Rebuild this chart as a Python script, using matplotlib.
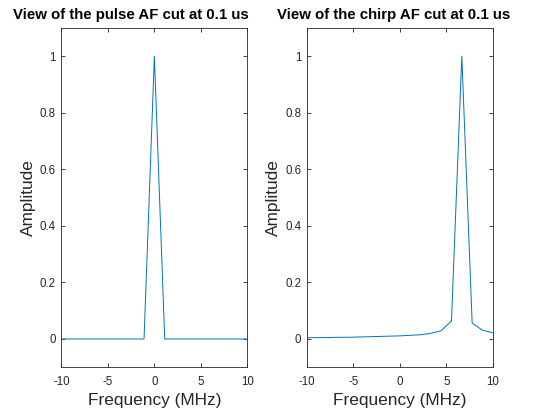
import numpy as np
import matplotlib
matplotlib.use("Agg")
import matplotlib.pyplot as plt

plt.rcParams['font.family'] = ['Liberation Sans', 'DejaVu Sans']
plt.rcParams['axes.unicode_minus'] = False

# frequency grid (MHz), 19 samples across -10..10
freq = np.linspace(-10, 10, 19)

pulse_amp = [0, 0, 0, 0, 0, 0, 0, 0, 0, 1.0, 0, 0, 0, 0, 0, 0, 0, 0, 0]
chirp_amp = [0.004, 0.005, 0.005, 0.006, 0.006, 0.007, 0.008, 0.009, 0.010,
             0.011, 0.013, 0.015, 0.020, 0.029, 0.064, 1.0, 0.056, 0.031, 0.022]

titles = ["View of the pulse AF cut at 0.1 us", "View of the chirp AF cut at 0.1 us"]
xticks = [-10, -5, 0, 5, 10]
yticks = [0, 0.2, 0.4, 0.6, 0.8, 1]
ytick_labels = ["0", "0.2", "0.4", "0.6", "0.8", "1"]

line_color = (0, 0.447, 0.741)
axis_color = "#262626"

fig = plt.figure(figsize=(5.49, 4.15), dpi=100)
lefts = [0.1117, 0.5587]
title_x = [0.375, 0.467]
for left, tx, title, amp in zip(lefts, title_x, titles, [pulse_amp, chirp_amp]):
    ax = fig.add_axes([left, 0.115, 0.339, 0.818])
    ax.plot(freq, amp, color=line_color, linewidth=0.7)
    ax.set_xlim(-10, 10)
    ax.set_ylim(-0.1, 1.1)
    ax.set_xticks(xticks)
    ax.set_yticks(yticks)
    ax.set_yticklabels(ytick_labels)
    ax.tick_params(direction="in", length=3, width=0.6, colors=axis_color,
                   labelsize=8.3, top=True, right=True)
    ax.tick_params(axis="x", pad=6)
    ax.tick_params(axis="y", pad=4)
    for s in ax.spines.values():
        s.set_color(axis_color)
        s.set_linewidth(0.6)
    ax.set_xlabel("Frequency (MHz)", fontsize=12.4, color=axis_color, labelpad=4)
    ax.set_ylabel("Amplitude", fontsize=12.4, color=axis_color, labelpad=3)
    ax.set_title(title, fontsize=10.8, fontweight="bold", x=tx, pad=6)

fig.savefig("out.png", dpi=100)
